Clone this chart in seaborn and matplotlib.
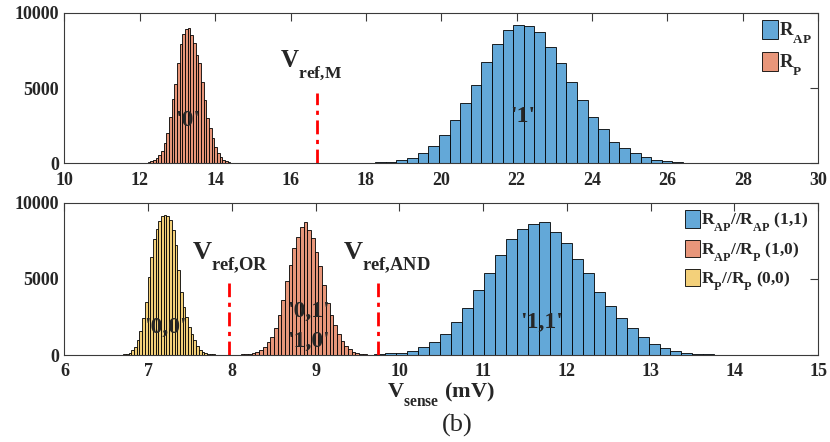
import numpy as np
import pandas as pd
import matplotlib
matplotlib.use("Agg")
import matplotlib.pyplot as plt
import matplotlib._mathtext as mathtext_internals
import seaborn as sns

# ---- histogram data (bin start, bin width, counts per bin) ----
top_ap_start, top_ap_width = 17.40, 0.2817
top_ap_counts = [20, 30, 50, 70, 110, 200, 375, 710, 1150, 1860,
                 2850, 4020, 5215, 6700, 7910, 8880, 9170, 9150, 8710, 7735,
                 6675, 5390, 4200, 3095, 2250, 1440, 996, 664, 400, 245,
                 133, 90, 45, 25, 15, 10, 8, 5, 3, 2]

top_p_start, top_p_width = 11.856, 0.0708
top_p_counts = [3, 5, 10, 20, 40, 80, 140, 220, 330, 550,
                840, 1330, 2000, 3050, 4250, 5300, 6640, 7920, 8580, 8900,
                8960, 8520, 7960, 7190, 6640, 5420, 4200, 2990, 2320, 1660,
                1100, 660, 400, 220, 130, 90, 40, 25, 12, 5]

bot_11_start, bot_11_width = 9.568, 0.131
bot_11_counts = [30, 60, 110, 165, 275, 500, 875, 1380, 2190, 3060,
                 4270, 5400, 6560, 7610, 8270, 8600, 8710, 8050, 7370, 6320,
                 5360, 4110, 3190, 2450, 1770, 1160, 720, 480, 285, 150,
                 90, 45, 25, 15, 10, 6, 4, 3, 2, 1]

bot_10_start, bot_10_width = 7.971, 0.0442
bot_10_counts = [20, 25, 30, 40, 55, 75, 110, 175, 330, 550,
                 830, 1200, 1790, 2630, 3610, 4860, 5910, 7000, 7770, 8420,
                 8710, 8200, 7700, 6780, 5860, 4600, 3390, 2600, 1950, 1400,
                 930, 620, 400, 220, 130, 65, 45, 25, 12, 5]

bot_00_start, bot_00_width = 6.509, 0.0322
bot_00_counts = [3, 4, 6, 10, 16, 28, 50, 85, 150, 300,
                 550, 985, 1600, 2410, 3500, 5150, 6460, 7600, 8260, 8830,
                 9150, 9220, 9150, 8870, 8210, 7230, 5580, 4160, 3130, 2470,
                 1860, 1380, 985, 590, 350, 220, 150, 90, 60, 40]

# reference voltages and the height of their marker lines
vref_m = 16.7
vref_or = 7.97
vref_and = 9.74
vref_line_top = 4700

top_labels = ["R$_{\\mathbf{AP}}$", "R$_{\\mathbf{P}}$"]
bot_labels = ["R$_{\\mathbf{AP}}$//R$_{\\mathbf{AP}}$ (1,1)",
              "R$_{\\mathbf{AP}}$//R$_{\\mathbf{P}}$ (1,0)",
              "R$_{\\mathbf{P}}$//R$_{\\mathbf{P}}$ (0,0)"]

blue = "#63a8d8"
orange = "#e8967a"
yellow = "#f3d07a"
axis_col = "#3a3a3a"
serif = "Liberation Serif"

sns.set_style("white")
plt.rcParams["font.family"] = [serif, "DejaVu Serif"]
plt.rcParams["font.weight"] = "bold"
plt.rcParams["mathtext.fontset"] = "custom"
plt.rcParams["mathtext.rm"] = serif + ":bold"
plt.rcParams["mathtext.bf"] = serif + ":bold"
plt.rcParams["mathtext.it"] = serif + ":bold"

# drop subscripts lower, TeX-style as in the original figure
try:
    mathtext_internals.FontConstantsBase.sub1 = 0.95
except Exception:
    pass


def draw_hist(ax, start, width, counts, color, label):
    n = len(counts)
    edges = start + width * np.arange(n + 1)
    df = pd.DataFrame({"v": 0.5 * (edges[:-1] + edges[1:]),
                       "n": np.asarray(counts, dtype=float)})
    sns.histplot(data=df, x="v", weights="n", bins=n,
                 binrange=(float(edges[0]), float(edges[-1])), color=color,
                 alpha=1.0, edgecolor="black", linewidth=0.6, ax=ax,
                 label=label)


def style_axes(ax, xlim, xticks):
    ax.set_xlim(*xlim)
    ax.set_ylim(0, 10000)
    ax.set_xticks(xticks)
    ax.set_yticks([0, 5000, 10000])
    ax.set_ylabel("")
    ax.set_xlabel("")
    for s in ax.spines.values():
        s.set_visible(True)
        s.set_color(axis_col)
        s.set_linewidth(0.8)
    ax.tick_params(direction="in", length=5.5, width=0.8, color=axis_col,
                   top=True, right=True, labelsize=13,
                   labelcolor="#262626")
    ax.tick_params(axis="x", pad=6)
    ax.tick_params(axis="y", pad=4)
    for lab in ax.get_xticklabels() + ax.get_yticklabels():
        lab.set_fontweight("bold")
        lab.set_family(serif)


fig = plt.figure(figsize=(8.30, 4.42), dpi=100)
ax1 = fig.add_axes([0.0777, 0.6305, 0.9081, 0.3407])
ax2 = fig.add_axes([0.0777, 0.1968, 0.9081, 0.3446])

dash_dot = (0, (5, 2, 1.5, 2))

# ---- top panel: single cell ----
draw_hist(ax1, top_ap_start, top_ap_width, top_ap_counts, blue, top_labels[0])
draw_hist(ax1, top_p_start, top_p_width, top_p_counts, orange, top_labels[1])
ax1.plot([vref_m, vref_m], [0, vref_line_top], color="red", lw=2,
         linestyle=dash_dot)
style_axes(ax1, (10, 30), np.arange(10, 31, 2))
ax1.text(15.72, 6414, r"$\mathbf{V_{ref{,}M}}$", fontsize=18,
         ha="left", va="baseline")
ax1.text(13.27, 2870, "'0'", fontsize=17, ha="center", va="center")
ax1.text(22.17, 3100, "'1'", fontsize=17, ha="center", va="center")
ax1.legend(loc="upper left", bbox_to_anchor=(0.925, 0.95), frameon=False,
           handlelength=0.85, handleheight=1.15,
           handletextpad=0.1, labelspacing=0.3, borderpad=0,
           borderaxespad=0, prop={"family": serif, "weight": "bold",
                                  "size": 13.5})

# ---- bottom panel: two cells in parallel ----
draw_hist(ax2, bot_11_start, bot_11_width, bot_11_counts, blue, bot_labels[0])
draw_hist(ax2, bot_10_start, bot_10_width, bot_10_counts, orange, bot_labels[1])
draw_hist(ax2, bot_00_start, bot_00_width, bot_00_counts, yellow, bot_labels[2])
for v in (vref_or, vref_and):
    ax2.plot([v, v], [0, vref_line_top], color="red", lw=2,
             linestyle=dash_dot)
style_axes(ax2, (6, 15), np.arange(6, 16, 1))
ax2.text(7.527, 6238, r"$\mathbf{V_{ref{,}OR}}$", fontsize=19,
         ha="left", va="baseline")
ax2.text(9.329, 6238, r"$\mathbf{V_{ref{,}AND}}$", fontsize=19,
         ha="left", va="baseline")
ax2.text(7.205, 1840, "'0,0'", fontsize=17, ha="center", va="center")
ax2.text(8.91, 2890, "'0,1'", fontsize=17, ha="center", va="center")
ax2.text(8.91, 920, "'1,0'", fontsize=17, ha="center", va="center")
ax2.text(11.70, 2170, "'1,1'", fontsize=17, ha="center", va="center")
ax2.legend(loc="upper left", bbox_to_anchor=(0.823, 0.95), frameon=False,
           handlelength=0.85, handleheight=1.15,
           handletextpad=0.1, labelspacing=0.3, borderpad=0,
           borderaxespad=0, prop={"family": serif, "weight": "bold",
                                  "size": 12.5})
ax2.set_xlabel(r"$\mathbf{V_{sense}\ (mV)}$", fontsize=16, labelpad=0)

fig.text(0.5506, 0.0385, "(b)", fontsize=19, fontweight="normal",
         family=serif, ha="center", va="center")

fig.savefig("out.png", dpi=100)
